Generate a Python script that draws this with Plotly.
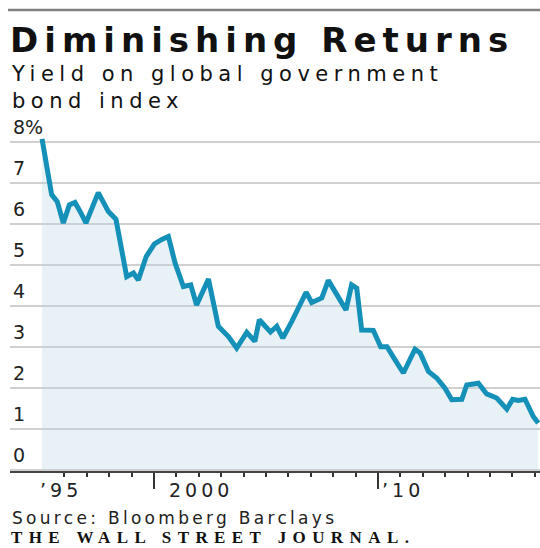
import plotly.graph_objects as go

# ---- data ----
years = [1995.0, 1995.43, 1995.68, 1995.95, 1996.22, 1996.47, 1996.70, 1996.96,
         1997.51, 1997.96, 1998.30, 1998.78, 1999.08, 1999.30, 1999.65, 2000.02,
         2000.35, 2000.64, 2000.94, 2001.31, 2001.64, 2001.90, 2002.43, 2002.87,
         2003.32, 2003.69, 2004.14, 2004.50, 2004.70, 2005.20, 2005.48, 2005.75,
         2006.15, 2006.79, 2007.04, 2007.49, 2007.78, 2008.23, 2008.57, 2008.82,
         2009.05, 2009.27, 2009.79, 2010.12, 2010.40, 2010.76, 2011.13, 2011.65,
         2011.88, 2012.25, 2012.62, 2012.99, 2013.29, 2013.74, 2013.96, 2014.48,
         2014.85, 2015.30, 2015.75, 2016.01, 2016.26, 2016.56, 2016.93, 2017.15]
yields = [8.07, 6.71, 6.54, 6.02, 6.46, 6.52, 6.30, 6.02,
          6.76, 6.30, 6.11, 4.71, 4.80, 4.63, 5.20, 5.51,
          5.62, 5.69, 5.04, 4.47, 4.51, 4.02, 4.65, 3.50,
          3.25, 2.97, 3.35, 3.13, 3.66, 3.36, 3.50, 3.21,
          3.62, 4.33, 4.08, 4.19, 4.62, 4.23, 3.90, 4.51,
          4.43, 3.41, 3.40, 3.00, 3.00, 2.68, 2.36, 2.94,
          2.85, 2.40, 2.24, 1.99, 1.71, 1.72, 2.07, 2.11,
          1.85, 1.75, 1.48, 1.72, 1.69, 1.72, 1.30, 1.14]

y_ticks = [0, 1, 2, 3, 4, 5, 6, 7, 8]
y_tick_labels = ["0", "1", "2", "3", "4", "5", "6", "7", "8%"]
x_major_ticks = [2000, 2010]
x_minor_ticks = list(range(1995, 2018))
x_label_years = [1995, 2000, 2010]
x_labels = ["\u201995", "2000", "\u201910"]

title = "Diminishing Returns"
subtitle_lines = ["Yield on global government", "bond index"]
source = "Source: Bloomberg Barclays"
brand = "THE WALL STREET JOURNAL."

# ---- layout geometry ----
W, H = 540, 548
ML, MR, MT, MB = 10, 0, 114, 77
PW, PH = W - ML - MR, H - MT - MB
X_RANGE = [1993.57, 1993.57 + PW / 22.4]
Y_RANGE = [-0.03, -0.03 + PH / 41.0]


def py(p):
    return (H - MB - p) / PH


def px(p):
    return (p - ML) / PW


def spaced(text, sp):
    return "<span style='letter-spacing:%spx'>%s</span>" % (sp, text)


LINE = "#1590b8"
FILL = "rgba(185,212,225,0.32)"
SANS = "DejaVu Sans"

fig = go.Figure()
fig.add_trace(go.Scatter(
    x=years, y=yields, mode="lines",
    line=dict(color=LINE, width=5),
    fill="tozeroy", fillcolor=FILL,
    hoverinfo="skip", showlegend=False,
))

x_label_shift = {"\u201995": -4, "2000": 13, "\u201910": 2}

annotations = [
    dict(text=spaced(title, 6), x=px(8), y=py(40), xref="paper", yref="paper",
         xanchor="left", yanchor="middle", showarrow=False,
         font=dict(family=SANS, size=34, color="#111", weight="bold")),
    dict(text="<br>".join(spaced(s, 5.5) for s in subtitle_lines),
         x=px(9), y=py(87), xref="paper", yref="paper",
         xanchor="left", yanchor="middle", align="left", showarrow=False,
         font=dict(family=SANS, size=21, color="#111")),
    dict(text=spaced(source, 3.3), x=px(10), y=py(518), xref="paper", yref="paper",
         xanchor="left", yanchor="middle", showarrow=False,
         font=dict(family=SANS, size=17, color="#222")),
    dict(text=spaced(brand, 6.4), x=px(10), y=py(548), xref="paper", yref="paper",
         xanchor="left", yanchor="bottom", showarrow=False, borderpad=0,
         font=dict(family="Liberation Serif", size=17, color="#111", weight="bold")),
]
for yr, lab in zip(x_label_years, x_labels):
    annotations.append(dict(
        text=spaced(lab, 4), x=yr, y=py(490), xref="x", yref="paper",
        xanchor="left", yanchor="middle", showarrow=False, xshift=x_label_shift[lab],
        font=dict(family=SANS, size=19, color="#222")))

fig.update_layout(
    width=W, height=H,
    margin=dict(l=ML, r=MR, t=MT, b=MB, pad=0),
    paper_bgcolor="white", plot_bgcolor="white",
    showlegend=False,
    annotations=annotations,
    shapes=[dict(type="line", xref="paper", yref="paper",
                 x0=px(8), x1=1, y0=py(10), y1=py(10),
                 line=dict(color="#808080", width=2.5))],
    xaxis=dict(
        range=X_RANGE, showgrid=False, zeroline=False,
        showline=True, linecolor="#444", linewidth=2,
        tickmode="array", tickvals=x_major_ticks,
        ticks="outside", ticklen=16, tickwidth=2, tickcolor="#333",
        showticklabels=False,
        minor=dict(tickmode="array", tickvals=x_minor_ticks, ticks="outside",
                   ticklen=4, tickwidth=2, tickcolor="#333", showgrid=False),
        fixedrange=True,
    ),
    yaxis=dict(
        range=Y_RANGE, tickmode="array", tickvals=y_ticks, ticktext=y_tick_labels,
        showgrid=True, gridcolor="#d0d0d0", gridwidth=2,
        zeroline=False, showline=False, ticks="",
        ticklabelposition="inside", ticklabelshift=-14,
        tickfont=dict(family=SANS, size=19, color="#222"),
        fixedrange=True,
    ),
)

fig.write_html("out.html")
